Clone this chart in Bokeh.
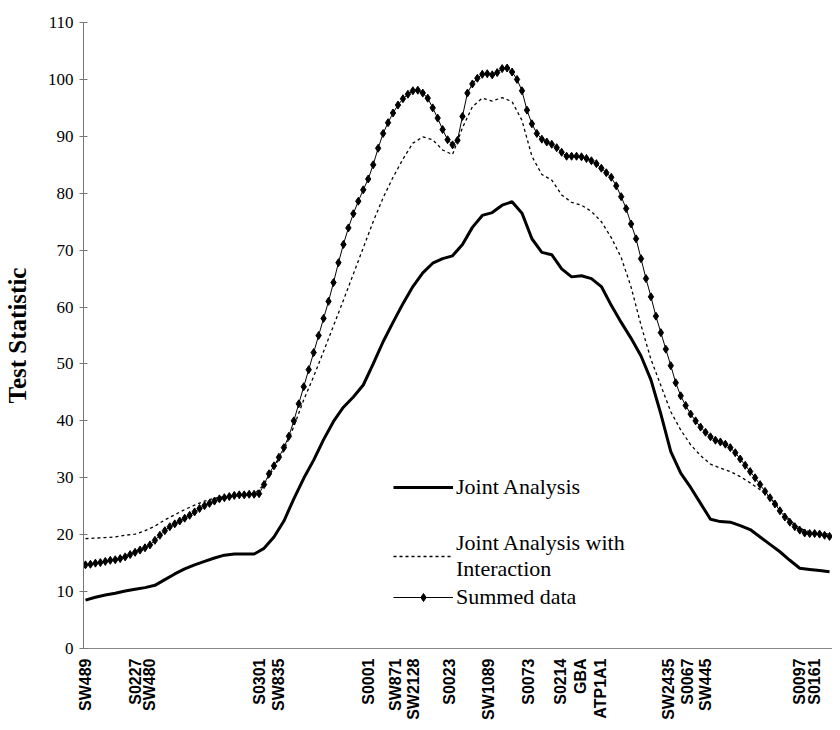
import math
from bokeh.plotting import figure
from bokeh.models import Range1d, FixedTicker, Legend, LegendItem
from bokeh.embed import file_html
from bokeh.resources import INLINE

# Marker map (position along chromosome, arbitrary units) and names
marker_names = ["SW489", "S0227", "SW480", "S0301", "SW835", "S0001", "SW871", "SW2128",
                "S0023", "SW1089", "S0073", "S0214", "GBA", "ATP1A1", "SW2435", "S0067",
                "SW445", "S0097", "S0161"]
marker_pos = [0, 10, 13, 35, 39, 57, 62.6, 66.2, 73.4, 81.2, 89.4, 95.8, 99.8, 103.8,
              117.6, 121.4, 125, 144, 147]

# Summed data: one value per unit position (0..150)
summed_x = list(range(0, 151))
summed_y = [14.7, 14.8, 15.0, 15.1, 15.3, 15.5, 15.6, 15.8, 16.1, 16.5,
            16.9, 17.3, 17.7, 18.2, 19.0, 19.9, 20.7, 21.4, 21.9, 22.4,
            22.9, 23.4, 24.0, 24.6, 25.1, 25.5, 25.9, 26.3, 26.5, 26.7,
            26.9, 27.0, 27.0, 27.1, 27.1, 27.2, 28.8, 30.7, 32.1, 33.6,
            35.3, 37.3, 40.0, 43.0, 46.0, 49.0, 52.0, 55.0, 58.0, 61.0,
            64.3, 67.8, 71.0, 73.9, 76.4, 78.6, 80.6, 82.5, 85.0, 87.9,
            90.5, 92.4, 94.1, 95.5, 96.6, 97.4, 98.0, 98.1, 97.6, 96.7,
            95.0, 93.2, 91.2, 89.4, 88.5, 89.3, 93.5, 97.6, 99.2, 100.2,
            100.9, 101.0, 100.8, 101.2, 101.9, 102.0, 101.3, 100.0, 98.0, 94.6,
            92.2, 90.5, 89.5, 89.0, 88.6, 88.0, 87.2, 86.5, 86.5, 86.5,
            86.4, 86.1, 85.7, 85.2, 84.4, 83.6, 82.8, 81.3, 79.4, 77.3,
            74.6, 72.0, 68.5, 65.0, 61.8, 58.4, 55.5, 52.6, 49.7, 46.7,
            44.4, 42.7, 41.2, 40.0, 38.9, 38.0, 37.2, 36.6, 36.3, 35.9,
            35.3, 34.4, 33.3, 32.2, 31.1, 30.0, 28.8, 27.6, 26.5, 25.4,
            24.2, 23.1, 22.2, 21.4, 20.8, 20.3, 20.2, 20.2, 20.1, 19.9,
            19.7]

# Joint analysis curves: one value every 2 units (0..150)
joint_x = list(range(0, 151, 2))
interaction_y = [19.3, 19.4, 19.5, 19.6, 19.9, 20.1, 20.7, 21.5, 22.6, 23.5,
                 24.4, 25.2, 25.9, 26.4, 26.7, 26.9, 27.0, 27.1, 28.8, 31.8,
                 34.8, 39.0, 43.7, 47.8, 52.2, 56.7, 61.2, 65.8, 70.4, 75.0,
                 79.2, 82.8, 86.0, 88.8, 89.9, 89.4, 87.6, 86.8, 91.5, 95.2,
                 96.7, 96.2, 96.8, 96.1, 92.8, 86.5, 83.3, 82.3, 79.7, 78.4,
                 77.9, 76.8, 75.0, 72.2, 68.7, 63.5, 56.8, 50.8, 46.2, 41.6,
                 38.4, 35.8, 33.9, 32.4, 31.7, 31.1, 30.2, 29.1, 27.9, 26.5,
                 24.6, 22.5, 21.1, 20.5, 20.3, 20.1]
joint_y = [8.5, 9.0, 9.4, 9.7, 10.1, 10.4, 10.7, 11.1, 12.1, 13.1,
           14.0, 14.7, 15.3, 15.9, 16.4, 16.6, 16.6, 16.6, 17.6, 19.6,
           22.4, 26.3, 29.9, 33.1, 36.7, 39.9, 42.4, 44.2, 46.3, 50.0,
           53.9, 57.3, 60.6, 63.6, 66.0, 67.7, 68.5, 69.0, 71.0, 74.0,
           76.1, 76.6, 77.9, 78.5, 76.5, 72.0, 69.6, 69.2, 66.7, 65.3,
           65.5, 65.0, 63.6, 60.3, 57.3, 54.5, 51.4, 47.2, 41.2, 34.6,
           30.8, 28.3, 25.5, 22.7, 22.3, 22.2, 21.6, 20.9, 19.6, 18.3,
           17.0, 15.5, 14.1, 13.9, 13.7, 13.5]

y_ticks = [0, 10, 20, 30, 40, 50, 60, 70, 80, 90, 100, 110]

p = figure(width=832, height=722, output_backend="svg", toolbar_location=None,
           x_range=Range1d(-0.4, 150.6), y_range=Range1d(0, 110),
           min_border_left=77, min_border_right=0, min_border_top=22, min_border_bottom=70)
p.outline_line_color = None
p.grid.grid_line_color = None
p.background_fill_color = "white"

r_joint = p.line(joint_x, joint_y, line_color="black", line_width=3)
r_inter = p.line(joint_x, interaction_y, line_color="black", line_width=1.3, line_dash="3 3")
r_sum_line = p.line(summed_x, summed_y, line_color="black", line_width=1)
r_sum_pts = p.scatter(summed_x, summed_y, marker="diamond", size=8, fill_color="black",
                      line_color="black")

# Y axis
yax = p.yaxis[0]
yax.ticker = FixedTicker(ticks=y_ticks)
yax.axis_label = "Test Statistic"
yax.axis_label_text_font = "Liberation Serif"
yax.axis_label_text_font_style = "bold"
yax.axis_label_text_font_size = "25px"
yax.axis_label_text_color = "black"
yax.axis_label_standoff = 14
yax.major_label_text_font = "Liberation Serif"
yax.major_label_text_font_size = "17px"
yax.major_label_text_color = "black"
yax.major_label_standoff = 6
yax.axis_line_color = "#777777"
yax.major_tick_line_color = "#777777"
yax.major_tick_in = 4
yax.major_tick_out = 4
yax.minor_tick_line_color = None

# X axis
xax = p.xaxis[0]
xax.ticker = FixedTicker(ticks=marker_pos)
xax.major_label_overrides = {pos: name for pos, name in zip(marker_pos, marker_names)}
xax.major_label_orientation = math.pi / 2
xax.major_label_text_font = "Liberation Sans"
xax.major_label_text_font_style = "bold"
xax.major_label_text_font_size = "16px"
xax.major_label_text_color = "black"
xax.major_label_standoff = 10
xax.axis_line_color = "#888888"
xax.major_tick_line_color = None
xax.major_tick_out = 0
xax.major_tick_in = 0
xax.minor_tick_line_color = None

leg_font = "Liberation Serif"
legend_a = Legend(items=[LegendItem(label="Joint Analysis", renderers=[r_joint])],
                  location=(310, 148), orientation="vertical")
legend_b = Legend(items=[LegendItem(label="Joint Analysis with\nInteraction", renderers=[r_inter]),
                         LegendItem(label="Summed data", renderers=[r_sum_line, r_sum_pts])],
                  location=(310, 38), orientation="vertical", spacing=2)
for lg in (legend_a, legend_b):
    lg.border_line_color = None
    lg.background_fill_alpha = 0
    lg.padding = 0
    lg.margin = 0
    lg.glyph_width = 60
    lg.label_standoff = 3
    lg.label_text_font = leg_font
    lg.label_text_font_size = "22px"
    lg.label_text_color = "black"
    p.add_layout(lg)

open("out.html", "w").write(file_html(p, INLINE))
